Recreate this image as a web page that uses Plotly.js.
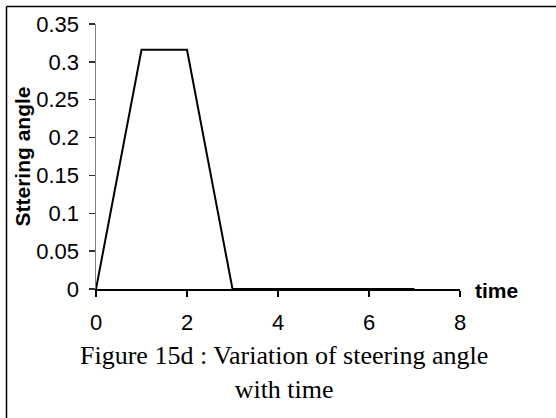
<!DOCTYPE html>
<html>
<head>
<meta charset="utf-8">
<script src="https://cdn.plot.ly/plotly-3.0.1.min.js"></script>
<style>html,body{margin:0;padding:0;background:#fff;}#chart{width:556px;height:418px;}</style>
</head>
<body>
<div id="chart"></div>
<script>
var timeValues = [0, 1, 2, 3, 7];
var steeringAngle = [0, 0.316, 0.316, 0, 0];
var xTicks = [0, 2, 4, 6, 8];
var yTicks = [0, 0.05, 0.1, 0.15, 0.2, 0.25, 0.3, 0.35];
var yTickText = ['0', '0.05', '0.1', '0.15', '0.2', '0.25', '0.3', '0.35'];
var xTitle = 'time';
var yTitle = 'Sttering angle';
var caption = 'Figure 15d : Variation of steering angle<br>with time';

var W = 556, H = 418;
var L = 96, R = 96, T = 24, B = 129;
var pw = W - L - R, ph = H - T - B;
function px(x) { return (x - L) / pw; }
function py(y) { return (H - B - y) / ph; }

var sansFont = 'Arial, Liberation Sans, sans-serif';
var serifFont = 'Times New Roman, Liberation Serif, serif';

var trace = {
  x: timeValues, y: steeringAngle, type: 'scatter', mode: 'lines',
  line: {color: '#000000', width: 2}, showlegend: false, hoverinfo: 'skip'
};

var layout = {
  width: W, height: H,
  margin: {l: L, r: R, t: T, b: B, pad: 0},
  paper_bgcolor: '#ffffff', plot_bgcolor: '#ffffff',
  showlegend: false,
  font: {family: sansFont, size: 22, color: '#000000'},
  xaxis: {
    range: [0, 8], tickvals: xTicks, ticktext: xTicks.map(String),
    showline: true, linecolor: '#000000', linewidth: 1.5,
    ticks: 'outside', ticklen: 6, tickcolor: '#000000', tickwidth: 1.5,
    showgrid: false, zeroline: false, fixedrange: true,
    ticklabelstandoff: 7,
    tickfont: {family: sansFont, size: 22, color: '#000000'}
  },
  yaxis: {
    range: [0, 0.35], tickvals: yTicks, ticktext: yTickText,
    showline: true, linecolor: '#808080', linewidth: 1.5,
    ticks: 'outside', ticklen: 6, tickcolor: '#333333', tickwidth: 1.5,
    showgrid: false, zeroline: false, fixedrange: true,
    ticklabelstandoff: 5,
    tickfont: {family: sansFont, size: 22, color: '#000000'},
    title: {text: yTitle, standoff: 0, font: {family: sansFont, size: 21, weight: 'bold', color: '#000000'}}
  },
  annotations: [
    {text: xTitle, xref: 'paper', yref: 'paper', x: px(473), y: py(290),
     xanchor: 'left', yanchor: 'middle', showarrow: false,
     font: {family: sansFont, size: 21, weight: 'bold', color: '#000000'}},
    {text: caption, xref: 'paper', yref: 'paper', x: px(284), y: py(339),
     xanchor: 'center', yanchor: 'top', align: 'center', showarrow: false,
     font: {family: serifFont, size: 26, color: '#000000'}}
  ],
  shapes: [
    {type: 'line', xref: 'paper', yref: 'paper', x0: px(6.5), y0: py(6.5), x1: px(W), y1: py(6.5),
     line: {color: '#000000', width: 1.5}},
    {type: 'line', xref: 'paper', yref: 'paper', x0: px(6.5), y0: py(6.5), x1: px(6.5), y1: py(H),
     line: {color: '#000000', width: 1.5}}
  ]
};

Plotly.newPlot('chart', [trace], layout, {displayModeBar: false, staticPlot: true});
</script>
</body>
</html>
